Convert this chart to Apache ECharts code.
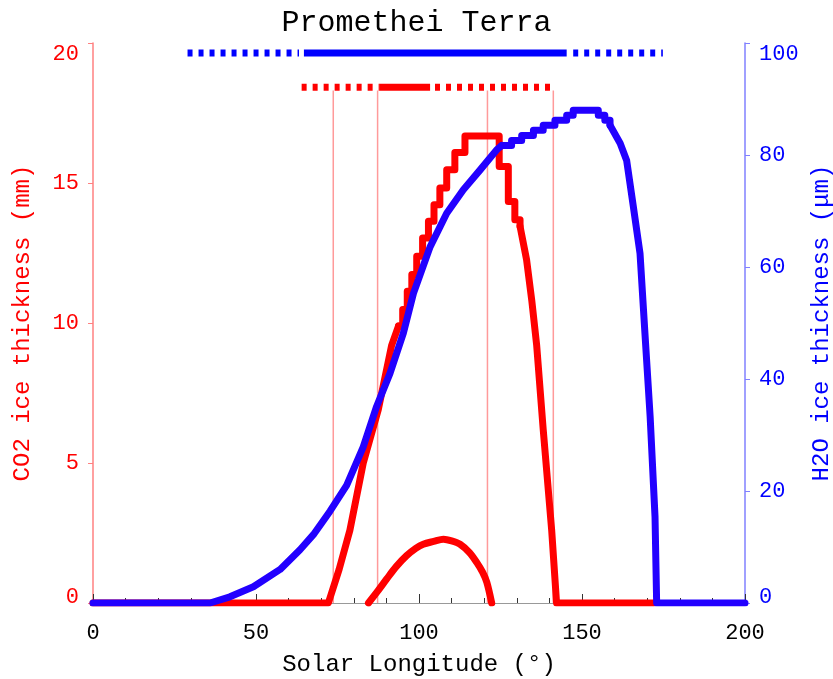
<!DOCTYPE html>
<html>
<head>
<meta charset="utf-8">
<script src="https://cdn.jsdelivr.net/npm/echarts@6/dist/echarts.min.js"></script>
<style>
  html, body { margin: 0; padding: 0; background: #fff; }
  #chart { width: 833px; height: 679px; }
</style>
</head>
<body>
<div id="chart"></div>
<script>
// CO2 ice, main curve (left axis, mm) - rising ramp, stair part, falling part
const co2RiseX = [0, 72.2, 75.5, 78.8, 82.9, 87.5, 91.6, 93.7];
const co2RiseY = [0, 0, 1.2, 2.6, 5.0, 6.9, 9.2, 9.89];
const co2StairX = [93.7, 95.0, 96.4, 97.8, 99.3, 101.1, 102.9, 104.6, 106.4, 108.5, 111.0, 114.1, 124.6, 127.4, 129.4, 131];
const co2StairY = [9.89, 10.48, 11.13, 11.73, 12.38, 13.04, 13.63, 14.22, 14.82, 15.47, 16.09, 16.68, 15.59, 14.34, 13.69, 13.45];
const co2FallX = [131, 133, 134.6, 136.1, 138.1, 140.7, 142.2, 172];
const co2FallY = [13.45, 12.26, 10.8, 9.2, 6.2, 2.6, 0, 0];

// CO2 ice, small curve (left axis, mm)
const co2SmallX = [84.5, 87.5, 90.1, 93, 96.2, 99, 101.3, 104.5, 107.5, 110, 112.6, 115.5, 117.7, 119.5, 120.8, 122.3];
const co2SmallY = [0, 0.45, 0.86, 1.3, 1.69, 1.95, 2.1, 2.2, 2.28, 2.22, 2.1, 1.8, 1.45, 1.1, 0.74, 0];

// H2O ice (right axis, um) - rise, stair plateau, fall
const h2oRiseX = [0, 35.9, 42, 49.2, 57.4, 63.5, 67.6, 72.7, 77.8, 82.9, 87, 91.1, 95.2, 98.3, 103.4, 108.5, 113.6, 118.7, 123.8, 125.4];
const h2oRiseY = [0, 0, 1.1, 2.9, 6.0, 9.5, 12.2, 16.4, 21, 27.9, 35.1, 41, 48.2, 55.3, 63.6, 69.6, 73.8, 77.3, 80.9, 81.7];
const h2oStairX = [125.4, 128.4, 131.5, 135.1, 138.1, 141.7, 145.3, 147.3, 155, 157, 158.6];
const h2oStairY = [81.7, 82.6, 83.5, 84.4, 85.3, 86.2, 87.1, 88, 87.1, 86.2, 85.3];
const h2oFallX = [158.6, 161.7, 163.7, 165.7, 167.8, 169.3, 170.9, 172.4, 172.9, 200];
const h2oFallY = [85.3, 82.1, 79, 71, 62.4, 48.2, 33.3, 15.4, 0, 0];

// season bars: [dotted start, solid start, solid end, dotted end]
const h2oSeason = [29, 63.2, 145.3, 174.8];
const h2oSeasonLevel = 98.2;
const co2Season = [64, 88, 103.4, 141.2];
const co2SeasonLevel = 18.42;

// thin vertical markers
const markerX = [73.7, 87.3, 121, 141.2];
const markerTop = 18.3;

const xTicks = [0, 50, 100, 150, 200];
const leftTicks = [0, 5, 10, 15, 20];
const rightTicks = [0, 20, 40, 60, 80, 100];

const RED = '#ff0000';
const BLUE = '#2200ff';
const BAR_BLUE = '#0000ff';
const FONT = '"Liberation Mono", "DejaVu Sans Mono", monospace';

const zip = (xs, ys) => xs.map((x, i) => [x, ys[i]]);

const segment = (x0, x1, level, color, dotted, yIndex) => ({
    type: 'line',
    yAxisIndex: yIndex,
    symbol: 'none',
    silent: true,
    z: 5,
    data: [[x0, level], [x1, level]],
    lineStyle: { color: color, width: 7, type: dotted ? [5, 6] : 'solid', cap: 'butt' }
});

const curve = (xs, ys, color, yIndex, z, extra) => Object.assign({
    type: 'line',
    yAxisIndex: yIndex,
    symbol: 'none',
    z: z,
    data: zip(xs, ys),
    lineStyle: { color: color, width: 7, join: 'round', cap: 'round' }
}, extra || {});

const series = [];

markerX.forEach(x => {
    series.push({
        type: 'line',
        yAxisIndex: 0,
        symbol: 'none',
        silent: true,
        z: 1,
        data: [[x, 0], [x, markerTop]],
        lineStyle: { color: '#ff9a9a', width: 1.5 }
    });
});

series.push(curve(co2RiseX, co2RiseY, RED, 0, 2));
series.push(curve(co2StairX, co2StairY, RED, 0, 2, { step: 'end' }));
series.push(curve(co2FallX, co2FallY, RED, 0, 2));
series.push(curve(co2SmallX, co2SmallY, RED, 0, 2, { smooth: 0.3 }));
series.push(curve(h2oRiseX, h2oRiseY, BLUE, 1, 3));
series.push(curve(h2oStairX, h2oStairY, BLUE, 1, 3, { step: 'end' }));
series.push(curve(h2oFallX, h2oFallY, BLUE, 1, 3));

series.push(segment(h2oSeason[0], h2oSeason[1], h2oSeasonLevel, BAR_BLUE, true, 1));
series.push(segment(h2oSeason[1] + 1.5, h2oSeason[2], h2oSeasonLevel, BAR_BLUE, false, 1));
series.push(segment(h2oSeason[2] + 2, h2oSeason[3], h2oSeasonLevel, BAR_BLUE, true, 1));
series.push(segment(co2Season[0], co2Season[1], co2SeasonLevel, RED, true, 0));
series.push(segment(co2Season[1], co2Season[2], co2SeasonLevel, RED, false, 0));
series.push(segment(co2Season[2] + 1.5, co2Season[3], co2SeasonLevel, RED, true, 0));

// the zero label sits a little above its tick, like the original
const yLabel = (color) => ({
    fontFamily: FONT, fontSize: 22, color: color, margin: 14,
    verticalAlignMinLabel: 'bottom', verticalAlignMaxLabel: 'top',
    formatter: v => v === 0 ? '{z|0}' : String(v),
    rich: { z: { fontFamily: FONT, fontSize: 22, color: color, lineHeight: 12 } }
});

const chart = echarts.init(document.getElementById('chart'));
chart.setOption({
    animation: false,
    backgroundColor: '#fff',
    title: {
        text: 'Promethei Terra',
        left: 'center',
        top: 3,
        textStyle: { fontFamily: FONT, fontSize: 30, fontWeight: 'normal', color: '#000' }
    },
    grid: { left: 93, right: 88, top: 43, bottom: 76, outerBoundsMode: 'none', containLabel: false },
    xAxis: {
        type: 'value',
        min: xTicks[0],
        max: xTicks[xTicks.length - 1],
        interval: 50,
        name: 'Solar Longitude (°)',
        nameLocation: 'middle',
        nameGap: 50,
        nameTextStyle: { fontFamily: FONT, fontSize: 24, color: '#000' },
        axisLine: { show: true, lineStyle: { color: '#999', width: 1 } },
        axisTick: { show: true, inside: true, length: 9, lineStyle: { color: '#333' } },
        minorTick: { show: true, splitNumber: 5, length: 5, lineStyle: { color: '#333' } },
        axisLabel: { fontFamily: FONT, fontSize: 22, color: '#000', margin: 19 },
        splitLine: { show: false }
    },
    yAxis: [{
        type: 'value',
        position: 'left',
        min: leftTicks[0],
        max: leftTicks[leftTicks.length - 1],
        interval: 5,
        name: 'CO2 ice thickness (mm)',
        nameLocation: 'middle',
        nameGap: 58,
        nameTextStyle: { fontFamily: FONT, fontSize: 24, color: RED },
        axisLine: { show: true, lineStyle: { color: '#ff8080', width: 1.5 } },
        axisTick: { show: true, length: 5, lineStyle: { color: '#ff8080' } },
        axisLabel: yLabel(RED),
        splitLine: { show: false }
    }, {
        type: 'value',
        position: 'right',
        min: rightTicks[0],
        max: rightTicks[rightTicks.length - 1],
        interval: 20,
        name: 'H2O ice thickness (μm)',
        nameLocation: 'middle',
        nameGap: 45,
        nameRotate: 90,
        nameTextStyle: { fontFamily: FONT, fontSize: 24, color: BAR_BLUE },
        axisLine: { show: true, lineStyle: { color: '#8080ff', width: 1.5 } },
        axisTick: { show: true, length: 5, lineStyle: { color: '#8080ff' } },
        axisLabel: yLabel(BAR_BLUE),
        splitLine: { show: false }
    }],
    series: series
});
</script>
</body>
</html>
